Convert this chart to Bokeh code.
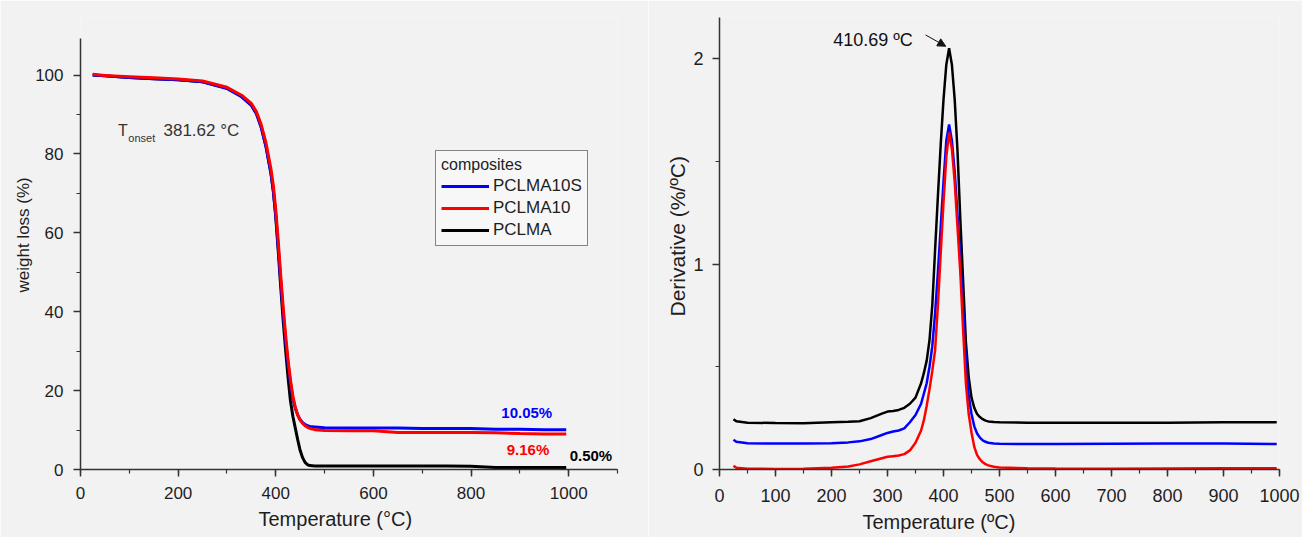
from bokeh.plotting import figure
from bokeh.layouts import row
from bokeh.models import (Range1d, SingleIntervalTicker, Legend, LegendItem, Label,
                          Arrow, NormalHead, Title)
from bokeh.embed import file_html
from bokeh.resources import INLINE

# ---------------- data: TGA (weight loss %) ----------------
t_tga = [25, 50, 100, 150, 200, 250, 300, 330, 350, 360, 370, 380, 390, 395, 400, 405,
         410, 415, 420, 425, 430, 435, 440, 445, 450, 455, 460, 465, 470, 480, 500, 550,
         600, 650, 700, 750, 800, 850, 900, 950, 995]
w_pclma10s = [100.0, 99.8, 99.4, 99.1, 98.8, 98.3, 96.6, 94.5, 92.3, 90.3, 86.8, 81.8, 75.2,
              70.8, 64.5, 56.5, 48.0, 40.0, 33.0, 27.0, 22.0, 18.0, 15.5, 13.8, 12.6, 11.9,
              11.4, 11.1, 10.9, 10.8, 10.6, 10.5, 10.5, 10.5, 10.4, 10.4, 10.4, 10.2, 10.2,
              10.1, 10.05]
w_pclma10 = [100.2, 99.9, 99.6, 99.3, 99.0, 98.5, 96.9, 94.9, 92.8, 90.8, 87.5, 82.8, 76.3,
             72.0, 65.8, 58.0, 49.5, 41.5, 34.3, 28.0, 22.8, 18.6, 15.8, 13.8, 12.5, 11.7,
             11.1, 10.7, 10.4, 10.1, 9.9, 9.8, 9.8, 9.4, 9.4, 9.4, 9.4, 9.3, 9.1, 9.0, 9.0]
w_pclma = [100.0, 99.8, 99.4, 99.1, 98.8, 98.3, 96.7, 94.6, 92.4, 90.4, 87.0, 82.0, 75.2,
           70.5, 64.0, 55.5, 46.5, 38.0, 30.5, 23.5, 17.5, 13.5, 10.5, 7.5, 4.8, 3.0, 1.8,
           1.2, 1.0, 0.9, 0.9, 0.9, 0.9, 0.9, 0.9, 0.9, 0.8, 0.5, 0.5, 0.5, 0.5]

# ---------------- data: DTG (derivative %/ºC) ----------------
t_dtg = [25, 30, 50, 100, 150, 200, 230, 250, 270, 290, 300, 310, 320, 330, 340, 350, 360,
         365, 370, 375, 380, 385, 390, 395, 400, 405, 410, 415, 420, 425, 430, 435, 440,
         445, 450, 455, 460, 465, 470, 475, 480, 490, 500, 550, 600, 700, 800, 900, 995]
d_pclma = [0.245, 0.235, 0.228, 0.226, 0.225, 0.23, 0.232, 0.235, 0.25, 0.272, 0.282, 0.285,
           0.29, 0.30, 0.32, 0.35, 0.42, 0.47, 0.53, 0.63, 0.80, 1.07, 1.33, 1.58, 1.80, 1.97,
           2.05, 1.97, 1.80, 1.55, 1.22, 0.92, 0.62, 0.45, 0.35, 0.30, 0.27, 0.255, 0.245,
           0.238, 0.234, 0.231, 0.23, 0.228, 0.228, 0.227, 0.228, 0.23, 0.23]
d_pclma10s = [0.145, 0.135, 0.128, 0.126, 0.126, 0.128, 0.132, 0.137, 0.148, 0.168, 0.178,
              0.185, 0.19, 0.20, 0.23, 0.265, 0.32, 0.37, 0.42, 0.50, 0.60, 0.76, 0.96, 1.18,
              1.40, 1.60, 1.68, 1.60, 1.45, 1.24, 1.02, 0.78, 0.52, 0.36, 0.27, 0.21, 0.175,
              0.155, 0.142, 0.135, 0.13, 0.127, 0.125, 0.124, 0.124, 0.125, 0.126, 0.126, 0.124]
d_pclma10 = [0.018, 0.008, 0.004, 0.003, 0.004, 0.008, 0.015, 0.025, 0.04, 0.055, 0.062,
             0.065, 0.068, 0.075, 0.093, 0.13, 0.19, 0.24, 0.31, 0.39, 0.48, 0.58, 0.80, 1.05,
             1.30, 1.52, 1.64, 1.56, 1.40, 1.18, 0.96, 0.68, 0.42, 0.27, 0.18, 0.11, 0.07,
             0.05, 0.035, 0.026, 0.02, 0.013, 0.01, 0.006, 0.005, 0.004, 0.005, 0.006, 0.006]

series_names = ["PCLMA10S", "PCLMA10", "PCLMA"]
series_colors = ["#0000ff", "#ff0000", "#000000"]
residues = ["10.05%", "9.16%", "0.50%"]

FONT = "Liberation Sans"
BG = "#f2f2f2"
TXT = "#1e1e1e"


def style_axes(p, fs):
    for ax in (p.xaxis[0], p.yaxis[0]):
        ax.axis_line_color = "#333333"
        ax.axis_line_width = 1.5
        ax.major_tick_line_color = "#333333"
        ax.minor_tick_line_color = "#333333"
        ax.major_tick_line_width = 1.5
        ax.minor_tick_line_width = 1.2
        ax.major_tick_out = 7
        ax.major_tick_in = 0
        ax.minor_tick_out = 4
        ax.minor_tick_in = 0
        ax.major_label_text_font = FONT
        ax.major_label_text_font_size = fs
        ax.major_label_text_color = TXT
    p.xgrid.visible = False
    p.ygrid.visible = False
    p.outline_line_color = None
    p.background_fill_color = BG
    p.border_fill_color = BG


def add_title(p, text, place, offset, size, standoff):
    t = Title(text=text, align="left", offset=offset, text_font=FONT, text_font_size=size,
              text_font_style="normal", text_color=TXT, standoff=standoff)
    p.add_layout(t, place)


# ---------------- left: TGA ----------------
p1 = figure(width=648, height=537, output_backend="svg", toolbar_location=None,
            x_range=Range1d(0, 1100), y_range=Range1d(0, 114.6),
            min_border_left=80, min_border_right=31, min_border_top=17, min_border_bottom=63)
p1.xaxis.ticker = SingleIntervalTicker(interval=200, num_minor_ticks=2)
p1.yaxis.ticker = SingleIntervalTicker(interval=20, num_minor_ticks=2)
p1.yaxis.bounds = (0, 109.3)
style_axes(p1, "17px")
p1.xaxis.major_label_standoff = 10
p1.yaxis.major_label_standoff = 10
add_title(p1, "Temperature (°C)", "below", 178, "20px", 9)
add_title(p1, "weight loss (%)", "left", 177, "17px", 0)

r_black = p1.line(t_tga, w_pclma, color=series_colors[2], line_width=3)
r_blue = p1.line(t_tga, w_pclma10s, color=series_colors[0], line_width=3)
r_red = p1.line(t_tga, w_pclma10, color=series_colors[1], line_width=3)

legend = Legend(items=[LegendItem(label=series_names[0], renderers=[r_blue]),
                       LegendItem(label=series_names[1], renderers=[r_red]),
                       LegendItem(label=series_names[2], renderers=[r_black])],
                location=(355, 223), title="composites")
legend.title_text_font = FONT
legend.title_text_font_size = "16px"
legend.title_text_font_style = "normal"
legend.title_text_color = TXT
legend.title_standoff = 2
legend.label_text_font = FONT
legend.label_text_font_size = "17px"
legend.label_text_color = TXT
legend.glyph_width = 48
legend.glyph_height = 20
legend.label_height = 20
legend.label_standoff = 4
legend.spacing = 2
legend.padding = 5
legend.margin = 0
legend.border_line_color = "#111111"
legend.border_line_width = 1.5
legend.background_fill_color = "#f7f7f7"
legend.background_fill_alpha = 1.0
p1.add_layout(legend, "center")

# T onset annotation
p1.add_layout(Label(x=77, y=85.9, text="T", text_font=FONT, text_font_size="16px",
                    text_color="#333333", text_baseline="middle"))
p1.add_layout(Label(x=98, y=84.0, text="onset", text_font=FONT, text_font_size="11px",
                    text_color="#333333", text_baseline="middle"))
p1.add_layout(Label(x=170, y=85.9, text="381.62 °C", text_font=FONT, text_font_size="17px",
                    text_color="#333333", text_baseline="middle"))

# residue labels
res_x = [862, 873, 1002]
res_y = [14.4, 5.1, 3.5]
for lab, col, xx, yy in zip(residues, series_colors, res_x, res_y):
    p1.add_layout(Label(x=xx, y=yy, text=lab, text_font=FONT, text_font_size="15px",
                        text_font_style="bold", text_color=col, text_baseline="middle"))

# ---------------- right: DTG ----------------
p2 = figure(width=654, height=537, output_backend="svg", toolbar_location=None,
            x_range=Range1d(0, 1000), y_range=Range1d(0, 2.2),
            min_border_left=71, min_border_right=23, min_border_top=17, min_border_bottom=65)
p2.xaxis.ticker = SingleIntervalTicker(interval=100, num_minor_ticks=2)
p2.yaxis.ticker = SingleIntervalTicker(interval=1, num_minor_ticks=2)
style_axes(p2, "18px")
p2.xaxis.major_label_standoff = 12
p2.yaxis.major_label_standoff = 9
add_title(p2, "Temperature (ºC)", "below", 143, "20px", 9)
add_title(p2, "Derivative (%/ºC)", "left", 153, "21px", 3)

p2.line(t_dtg, d_pclma, color=series_colors[2], line_width=2.5)
p2.line(t_dtg, d_pclma10s, color=series_colors[0], line_width=2.5)
p2.line(t_dtg, d_pclma10, color=series_colors[1], line_width=2.5)

p2.add_layout(Label(x=203, y=2.09, text="410.69 ºC", text_font=FONT, text_font_size="18px",
                    text_color="#111111", text_baseline="middle"))
p2.add_layout(Arrow(end=NormalHead(size=8, fill_color="#111111", line_color="#111111"),
                    x_start=368, y_start=2.115, x_end=404, y_end=2.06,
                    line_color="#111111", line_width=1))

layout = row(p1, p2)
html = file_html(layout, INLINE)
html = html.replace("<body>", '<body style="background:#f2f2f2">', 1)
open("out.html", "w").write(html)
